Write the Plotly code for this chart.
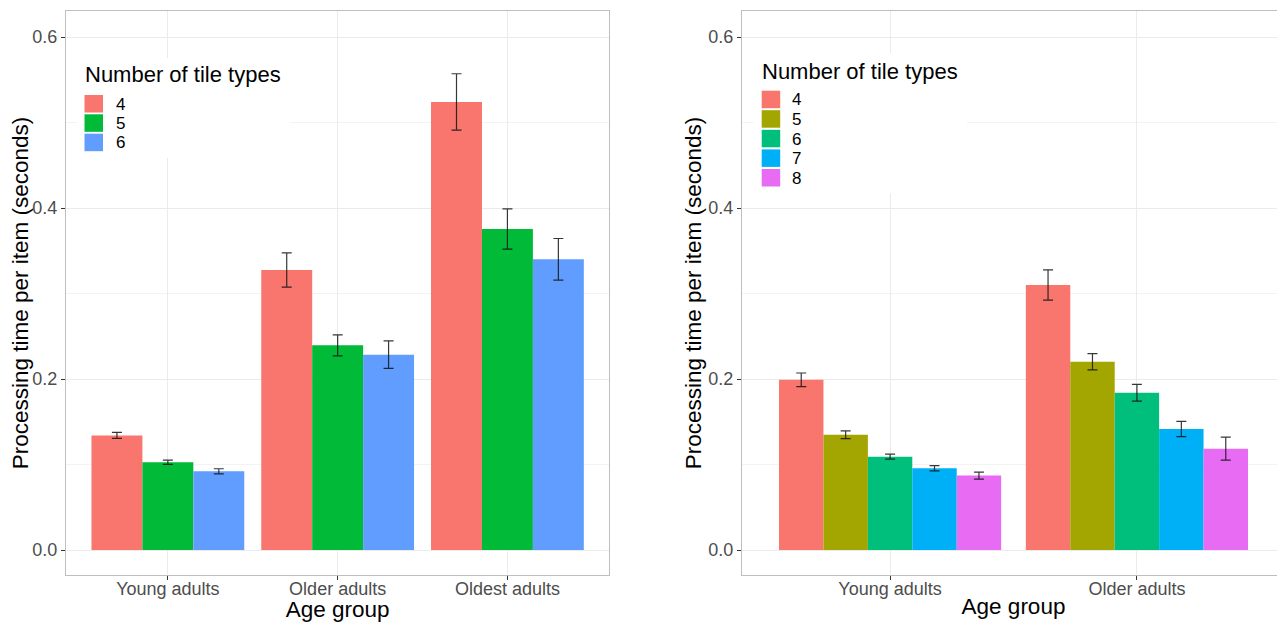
import plotly.graph_objects as go

# ---------------- data ----------------
left_groups = ["Young adults", "Older adults", "Oldest adults"]
left_series = ["4", "5", "6"]
left_means_4 = [0.134, 0.3275, 0.524]
left_means_5 = [0.1026, 0.2394, 0.3754]
left_means_6 = [0.092, 0.2285, 0.340]
left_err_4 = [0.0035, 0.020, 0.033]
left_err_5 = [0.0025, 0.0123, 0.0235]
left_err_6 = [0.003, 0.016, 0.0243]

right_groups = ["Young adults", "Older adults"]
right_series = ["4", "5", "6", "7", "8"]
right_means_4 = [0.199, 0.310]
right_means_5 = [0.1348, 0.2202]
right_means_6 = [0.1092, 0.1840]
right_means_7 = [0.0956, 0.1415]
right_means_8 = [0.0870, 0.1185]
right_err_4 = [0.008, 0.0177]
right_err_5 = [0.0045, 0.0095]
right_err_6 = [0.003, 0.0098]
right_err_7 = [0.003, 0.009]
right_err_8 = [0.004, 0.0135]

y_ticks = [0.0, 0.2, 0.4, 0.6]
y_tick_labels = ["0.0", "0.2", "0.4", "0.6"]

x_title = "Age group"
y_title = "Processing time per item (seconds)"
legend_title = "Number of tile types"

left_colors = ["#F8766D", "#00BA38", "#619CFF"]
right_colors = ["#F8766D", "#A3A500", "#00BF7D", "#00B0F6", "#E76BF3"]

# ---------------- geometry (reference pixel space) ----------------
OFF = 8                      # page body margin of the html page
W, H = 1285 - OFF, 622 - OFF
L_X0, L_X1 = 66, 609.3       # left panel, reference pixels
R_X0, R_X1 = 742, 1285       # right panel
P_TOP, P_BOT = 11, 575
ML = L_X0 - OFF
MT = P_TOP - OFF
MB = 622 - P_BOT
MR = 0
PW = W - ML - MR
PH = H - MT - MB

FONT = "Liberation Sans, Arial, sans-serif"
ERR_COLOR = "rgba(20,20,20,0.85)"

fig = go.Figure()

left_means = [left_means_4, left_means_5, left_means_6]
left_errs = [left_err_4, left_err_5, left_err_6]
for name, m, e, c in zip(left_series, left_means, left_errs, left_colors):
    fig.add_trace(go.Bar(
        x=left_groups, y=m, name=name, marker=dict(color=c, line=dict(width=0)),
        error_y=dict(type="data", array=e, visible=True, color=ERR_COLOR,
                     thickness=1.2, width=5),
        xaxis="x", yaxis="y", showlegend=False, offsetgroup=name,
    ))

right_means = [right_means_4, right_means_5, right_means_6, right_means_7, right_means_8]
right_errs = [right_err_4, right_err_5, right_err_6, right_err_7, right_err_8]
for name, m, e, c in zip(right_series, right_means, right_errs, right_colors):
    fig.add_trace(go.Bar(
        x=right_groups, y=m, name=name, marker=dict(color=c, line=dict(width=0)),
        error_y=dict(type="data", array=e, visible=True, color=ERR_COLOR,
                     thickness=1.2, width=5),
        xaxis="x2", yaxis="y2", showlegend=False, offsetgroup="r" + name,
    ))

yrange = [-25 / 855, 539 / 855]

common_x = dict(
    type="category", showline=True, mirror=True, linecolor="#BEBEBE", linewidth=1.2,
    ticks="outside", ticklen=4, tickcolor="#333333", tickwidth=1,
    tickfont=dict(family=FONT, size=18, color="#4D4D4D"), ticklabelstandoff=-7,
    showgrid=True, gridcolor="#EBEBEB", gridwidth=1.1, zeroline=False,
    title=dict(text=x_title, font=dict(family=FONT, size=22.5, color="#000000"), standoff=0),
)
common_y = dict(
    range=yrange, showline=True, mirror=True, linecolor="#BEBEBE", linewidth=1.2,
    ticks="outside", ticklen=4, tickcolor="#333333", tickwidth=1,
    tickmode="array", tickvals=y_ticks, ticktext=y_tick_labels,
    tickfont=dict(family=FONT, size=18, color="#4D4D4D"),
    showgrid=True, gridcolor="#EBEBEB", gridwidth=1.1, zeroline=False,
    minor=dict(tickmode="array", tickvals=[0.1, 0.3, 0.5], showgrid=True,
               gridcolor="#F3F3F3", gridwidth=0.8, ticks=""),
    title=dict(text=y_title, font=dict(family=FONT, size=22.5, color="#000000"), standoff=0),
)

fig.update_layout(
    width=W, height=H,
    margin=dict(l=ML, r=MR, t=MT, b=MB, autoexpand=False),
    paper_bgcolor="white", plot_bgcolor="white",
    barmode="group", bargap=0.1, bargroupgap=0,
    showlegend=False,
    xaxis=dict(common_x, domain=[(L_X0 - L_X0) / PW, (L_X1 - L_X0) / PW], range=[-0.6, 2.6], anchor="y"),
    yaxis=dict(common_y, domain=[0, 1], anchor="x"),
    xaxis2=dict(common_x, domain=[(R_X0 - L_X0) / PW, min(1, (R_X1 - L_X0) / PW)], range=[-0.6, 1.6], anchor="y2"),
    yaxis2=dict(common_y, domain=[0, 1], anchor="x2"),
    font=dict(family=FONT),
)

# ---------------- hand-drawn legends (ggplot style, inside panels) ----------------
def xd(px, x0, x1):
    return (px - x0) / (x1 - x0)

def yd(py):
    return (P_BOT - py) / (P_BOT - P_TOP)

def add_legend(xref, yref, x0, x1, box, title_pos, sw_x, sw_w, sw_h, sw_tops, lab_x, names, colors):
    bx0, bx1, by0, by1 = box
    fig.add_shape(type="rect", xref=xref, yref=yref, layer="above",
                  x0=xd(bx0, x0, x1), x1=xd(bx1, x0, x1), y0=yd(by1), y1=yd(by0),
                  fillcolor="white", line=dict(width=0))
    fig.add_annotation(xref=xref, yref=yref, x=xd(title_pos[0], x0, x1), y=yd(title_pos[1]),
                       xanchor="left", yanchor="middle", showarrow=False, text=legend_title,
                       font=dict(family=FONT, size=22, color="#000000"))
    for top, name, c in zip(sw_tops, names, colors):
        fig.add_shape(type="rect", xref=xref, yref=yref, layer="above",
                      x0=xd(sw_x, x0, x1), x1=xd(sw_x + sw_w, x0, x1),
                      y0=yd(top + sw_h), y1=yd(top), fillcolor=c, line=dict(width=0))
        fig.add_annotation(xref=xref, yref=yref, x=xd(lab_x, x0, x1), y=yd(top + sw_h / 2 + 0.5),
                           xanchor="left", yanchor="middle", showarrow=False, text=name,
                           font=dict(family=FONT, size=17, color="#000000"))

add_legend("x domain", "y domain", L_X0, L_X1, (77, 290, 58, 158), (83, 74.5),
           84.5, 18.5, 17.5, [95, 114.3, 133.7], 114, left_series, left_colors)
add_legend("x2 domain", "y2 domain", R_X0, R_X1, (754, 967, 53, 193), (760, 71),
           761.7, 18.5, 17.5, [90.7, 110.2, 129.8, 149.4, 169], 790, right_series, right_colors)

fig.write_html("out.html")
